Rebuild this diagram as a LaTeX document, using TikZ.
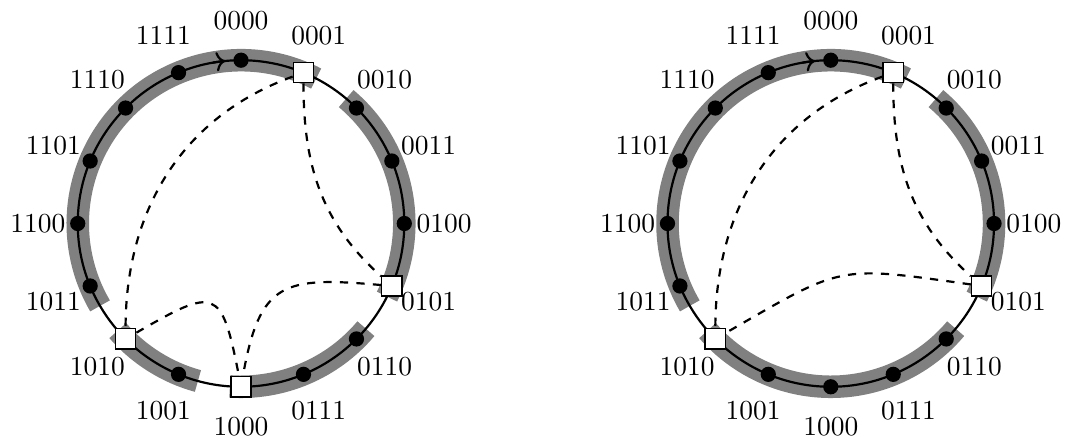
\documentclass[tikz,border=0pt]{standalone}
\usetikzlibrary{positioning,calc}
\usetikzlibrary{arrows.meta}
\definecolor{ArcGray}{RGB}{128,128,128}
\newcommand{\ringR}{2.09}
\newcommand{\labR}{2.6}
\tikzset{
  key/.style={circle,fill=black,inner sep=0pt,minimum size=1.95mm},
  peer/.style={rectangle,draw=black,fill=white,line width=0.5pt,inner sep=0pt,minimum size=2.6mm},
  ring/.style={draw=black,line width=0.8pt},
  seg/.style={draw=ArcGray,line width=8.2pt},
  finger/.style={draw=black,dashed,line width=0.8pt},
  bits/.style={inner sep=0pt},
}

\begin{document}
\begin{tikzpicture}
\useasboundingbox (0,0) rectangle (13.645,5.658);
% left ring
\begin{scope}[shift={(3.085,2.797)}]
\draw[seg] (62.6:\ringR) arc[start angle=62.6,end angle=210.3,radius=\ringR];
\draw[seg] (-26.6:\ringR) arc[start angle=-26.6,end angle=49.9,radius=\ringR];
\draw[seg] (-93.9:\ringR) arc[start angle=-93.9,end angle=-40.1,radius=\ringR];
\draw[seg] (-139:\ringR) arc[start angle=-139,end angle=-105.3,radius=\ringR];
\draw[ring] (0,0) circle (\ringR);
\draw[ring,->] (100:\ringR) arc[start angle=100,end angle=95.5,radius=\ringR];
\foreach \k/\b in {0/0000,1/0001,2/0010,3/0011,4/0100,5/0101,6/0110,7/0111,
  8/1000,9/1001,10/1010,11/1011,12/1100,13/1101,14/1110,15/1111}
  \node[bits] (lt\k) at ({90-22.5*\k}:\labR) {\b};
\foreach \k in {0,2,3,4,6,7,9,11,12,13,14,15}
  \node[key] (lk\k) at ({90-22.5*\k}:\ringR) {};
\foreach \k in {1,5,8,10}
  \node[peer] (lk\k) at ({90-22.5*\k}:\ringR) {};
\draw[finger] (lk1) to[out=200,in=90] (lk10);
\draw[finger] (lk1) to[out=-90,in=138] (lk5);
\draw[finger] (lk5) to[out=175,in=80,looseness=1.5] (lk8);
\draw[finger] (lk10) to[out=30,in=101,looseness=2.1] (lk8);
\end{scope}
% right ring
\begin{scope}[shift={(10.634,2.797)}]
\draw[seg] (62.6:\ringR) arc[start angle=62.6,end angle=210.3,radius=\ringR];
\draw[seg] (-26.6:\ringR) arc[start angle=-26.6,end angle=49.9,radius=\ringR];
\draw[seg] (-139:\ringR) arc[start angle=-139,end angle=-40.1,radius=\ringR];
\draw[ring] (0,0) circle (\ringR);
\draw[ring,->] (100:\ringR) arc[start angle=100,end angle=95.5,radius=\ringR];
\foreach \k/\b in {0/0000,1/0001,2/0010,3/0011,4/0100,5/0101,6/0110,7/0111,
  8/1000,9/1001,10/1010,11/1011,12/1100,13/1101,14/1110,15/1111}
  \node[bits] (rt\k) at ({90-22.5*\k}:\labR) {\b};
\foreach \k in {0,2,3,4,6,7,8,9,11,12,13,14,15}
  \node[key] (rk\k) at ({90-22.5*\k}:\ringR) {};
\foreach \k in {1,5,10}
  \node[peer] (rk\k) at ({90-22.5*\k}:\ringR) {};
\draw[finger] (rk1) to[out=200,in=90] (rk10);
\draw[finger] (rk1) to[out=-90,in=138] (rk5);
\draw[finger] (rk5) to[out=172,in=30,looseness=1.4] (rk10);
\end{scope}
\end{tikzpicture}
\end{document}
